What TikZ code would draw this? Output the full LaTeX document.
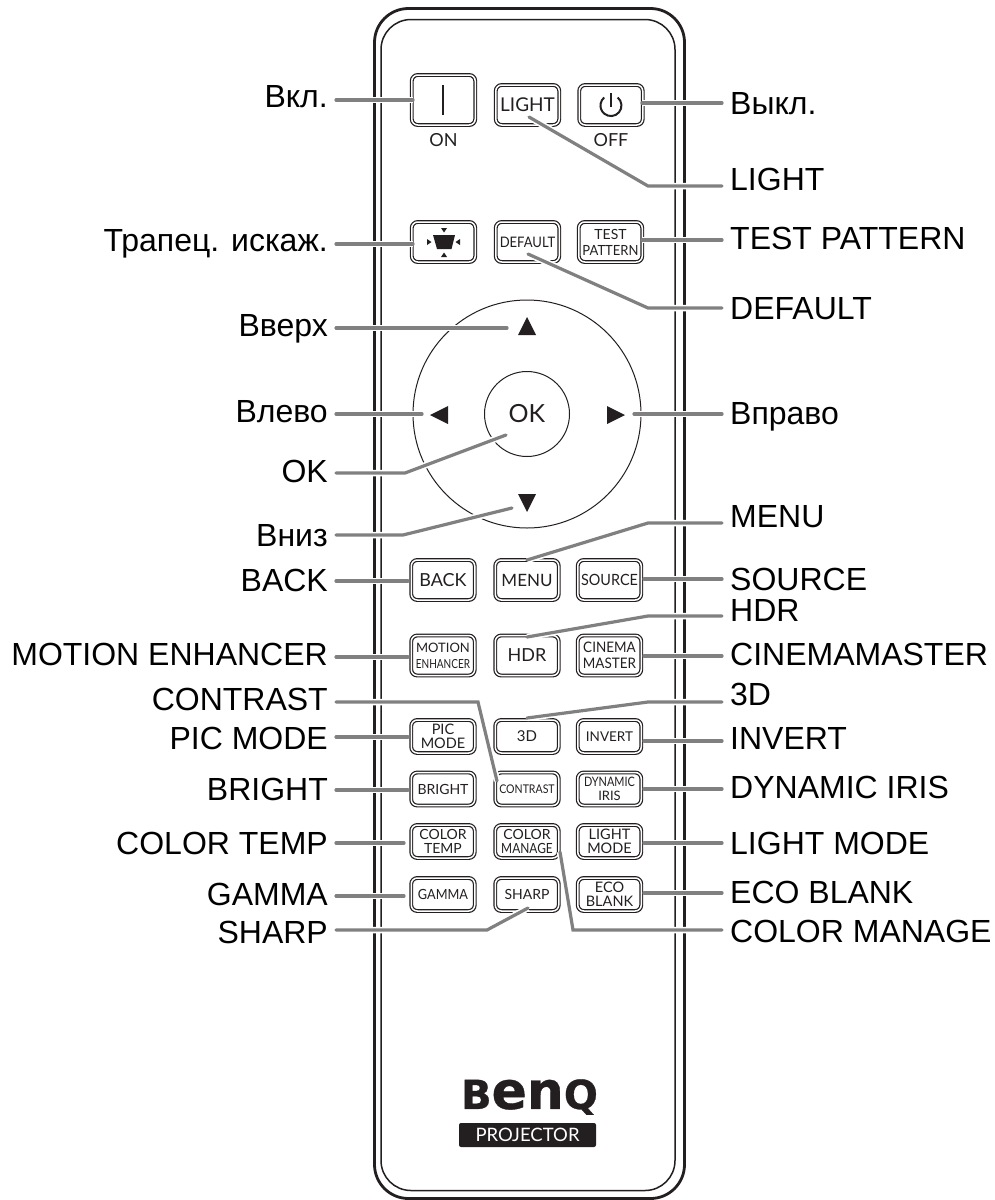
\documentclass[tikz,border=0pt]{standalone}
\usepackage{fontspec}
\setmainfont{Liberation Sans}
\newfontfamily\keyfont{Lato}
\newfontfamily\logofont{DejaVu Sans}[BoldFeatures={FakeBold=0.7}]
\usepackage{tikz}
\usetikzlibrary{calc}
\newcommand{\kf}[1]{\fontsize{#1}{16}\selectfont}
\newcommand{\nar}[2]{\scalebox{#1}[1]{#2}}
\definecolor{ink}{HTML}{231F20}
\definecolor{leadgray}{HTML}{808080}

\begin{document}
\begin{tikzpicture}[
  x=1pt,y=-1pt,
  shell/.style={draw=ink, rounded corners=34pt, inner sep=0pt, line width=2.8pt},
  btn/.style={draw=ink, double=white, double distance=1.5pt, line width=1.2pt,
              rounded corners=6pt, minimum width=63.5pt, inner sep=0pt, align=center,
              text=ink, font=\keyfont\kf{#1}},
  tallbtn/.style={btn=#1, minimum height=40pt},
  lowbtn/.style={btn=#1, minimum height=33pt, font=\keyfont\fontsize{#1}{14}\selectfont},
  pad/.style={circle, draw=ink, line width=1pt, inner sep=0pt},
  leftlab/.style={anchor=east, inner xsep=8pt, inner ysep=0pt, text=black,
                  font=\fontsize{32}{32}\selectfont, text height=23pt, text depth=0pt},
  rightlab/.style={leftlab, anchor=west},
  leader/.style={draw=leadgray, line width=3.2pt, line cap=round,
                 preaction={draw=white, line width=6.5pt}}
]
\useasboundingbox (0,0) rectangle (995,1200);

% remote body
\node[shell, minimum width=310pt, minimum height=1190pt] (bodyout) at (529.5,603.5) {};
\node[shell, line width=1.5pt, rounded corners=30pt, minimum width=294pt, minimum height=1171pt] (bodyin) at (528,605) {};

% first rows
\node[btn=12, minimum height=50pt] (btnOn) at (443.5,100) {};
\node[tallbtn=19] (btnLight) at (527.5,105) {LIGHT};
\node[tallbtn=12] (btnOff) at (611,105) {};
\node[text=ink, font=\keyfont\kf{18}, inner sep=0pt] (txtOn) at (443.5,140) {ON};
\node[text=ink, font=\keyfont\kf{18}, inner sep=0pt] (txtOff) at (611,140) {OFF};
\draw[ink, line width=1.8pt] (443,85) -- (443,115);
\draw[ink, line width=2pt] (617.7,97.5) arc (-50:230:10.5);
\draw[ink, line width=2pt] (611,93) -- (611,107);

\node[tallbtn=12] (btnKey) at (443.5,242) {};
\node[tallbtn=14.5] (btnDefault) at (527.5,242) {\nar{.9}{DEFAULT}};
\node[tallbtn=14] (btnTest) at (610.5,242) {TEST\\\nar{.93}{PATTERN}};
\fill[ink] (433,235) -- (455,235) -- (451.5,249) -- (437,249) -- cycle;
\fill[ink] (441,228) -- (447,228) -- (444,232.5) -- cycle;
\fill[ink] (441,257) -- (447,257) -- (444,252.5) -- cycle;
\fill[ink] (427,239) -- (427,245) -- (431.5,242) -- cycle;
\fill[ink] (460,239) -- (460,245) -- (455.5,242) -- cycle;

% direction pad
\node[pad, minimum size=228pt] (dpad) at (527,414) {};
\node[pad, minimum size=85pt, font=\keyfont\kf{25}, text=ink] (btnOk) at (527,414) {OK};
\fill[ink] (527,317) -- (536,335) -- (518,335) -- cycle;
\fill[ink] (527,512) -- (536,494) -- (518,494) -- cycle;
\fill[ink] (430,415) -- (448,406) -- (448,424) -- cycle;
\fill[ink] (625,415) -- (607,406) -- (607,424) -- cycle;

% lower rows
\node[tallbtn=18] (btnBack) at (443,580) {BACK};
\node[tallbtn=17] (btnMenu) at (527,580) {MENU};
\node[tallbtn=15.5] (btnSource) at (609.5,580) {\nar{.93}{SOURCE}};
\node[tallbtn=13] (btnMotion) at (443,655.5) {MOTION\\\kf{12.5}\nar{.8}{ENHANCER}};
\node[tallbtn=18] (btnHdr) at (527,655.5) {HDR};
\node[tallbtn=14.5] (btnCinema) at (609.5,655.5) {\nar{.93}{CINEMA}\\\nar{.93}{MASTER}};
\node[lowbtn=14.5] (btnPic) at (443,736.5) {PIC\\MODE};
\node[lowbtn=15] (btn3d) at (527,736.5) {3D};
\node[lowbtn=13.5] (btnInvert) at (609.5,736.5) {INVERT};
\node[lowbtn=14] (btnBright) at (443,789) {BRIGHT};
\node[lowbtn=12] (btnContrast) at (527,789) {\nar{.88}{CONTRAST}};
\node[lowbtn=13] (btnDynamic) at (609.5,789) {\nar{.84}{DYNAMIC}\\IRIS};
\node[lowbtn=14] (btnTemp) at (443,841.5) {COLOR\\TEMP};
\node[lowbtn=14] (btnManage) at (527,841.5) {COLOR\\\nar{.85}{MANAGE}};
\node[lowbtn=14.5] (btnMode) at (609.5,841.5) {LIGHT\\MODE};
\node[lowbtn=14] (btnGamma) at (443,894.5) {\nar{.91}{GAMMA}};
\node[lowbtn=14] (btnSharp) at (527,894.5) {SHARP};
\node[lowbtn=14.5] (btnEco) at (609.5,894.5) {ECO\\BLANK};

% logo
\node[inner sep=0pt, text=ink, font=\logofont\bfseries] (logo) at (529.5,1097)
  {\fontsize{40}{40}\selectfont B\fontsize{52}{52}\selectfont en\fontsize{40}{40}\selectfont Q};
\node[fill=ink, rounded corners=2pt, text=white, minimum width=137pt, minimum height=24pt,
      inner sep=0pt, font=\keyfont\kf{18.5}] (tagline) at (527.5,1135) {PROJECTOR};

% left labels
\node[leftlab] (labOn) at (336,96) {Вкл.};
\node[leftlab] (labKey) at (336,240) {Трапец. искаж.};
\node[leftlab] (labUp) at (336,325) {Вверх};
\node[leftlab] (labLeft) at (336,411) {Влево};
\node[leftlab] (labOk) at (336,471) {OK};
\node[leftlab] (labDown) at (336,535) {Вниз};
\node[leftlab] (labBack) at (336,580) {BACK};
\node[leftlab] (labMotion) at (336,654) {MOTION ENHANCER};
\node[leftlab] (labContrast) at (336,699) {CONTRAST};
\node[leftlab] (labPic) at (336,738) {PIC MODE};
\node[leftlab] (labBright) at (336,789) {BRIGHT};
\node[leftlab] (labTemp) at (336,843) {COLOR TEMP};
\node[leftlab] (labGamma) at (336,894) {GAMMA};
\node[leftlab] (labSharp) at (336,932) {SHARP};

% right labels
\node[rightlab] (labOff) at (722,103) {Выкл.};
\node[rightlab] (labLight) at (722,179) {LIGHT};
\node[rightlab] (labTest) at (722,238) {TEST PATTERN};
\node[rightlab] (labDefault) at (722,308) {DEFAULT};
\node[rightlab] (labRight) at (722,413) {Вправо};
\node[rightlab] (labMenu) at (722,516) {MENU};
\node[rightlab] (labSource) at (722,579) {SOURCE};
\node[rightlab] (labHdr) at (722,610) {HDR};
\node[rightlab] (labCinema) at (722,654) {CINEMAMASTER};
\node[rightlab] (lab3d) at (722,694) {3D};
\node[rightlab] (labInvert) at (722,738) {INVERT};
\node[rightlab] (labDynamic) at (722,787) {DYNAMIC IRIS};
\node[rightlab] (labMode) at (722,843) {LIGHT MODE};
\node[rightlab] (labEco) at (722,892) {ECO BLANK};
\node[rightlab] (labManage) at (722,931) {COLOR MANAGE};

% leaders, left side
\draw[leader] ($(btnOn)+(-30.5,0)$) coordinate (tipOn) -- (labOn.east |- tipOn);
\draw[leader] ($(btnKey)+(-30.5,2)$) coordinate (tipKey) -- (labKey.east |- tipKey);
\draw[leader] ($(dpad)+(-20,-86)$) coordinate (tipUp) -- (labUp.east |- tipUp);
\draw[leader] ($(dpad)+(-105,0)$) coordinate (tipLeft) -- (labLeft.east |- tipLeft);
\draw[leader] ($(btnOk)+(-21,21)$) -- (405,473) coordinate (bendOk) -- (labOk.east |- bendOk);
\draw[leader] ($(dpad)+(-15,94)$) -- (403,535) coordinate (bendDown) -- (labDown.east |- bendDown);
\draw[leader] ($(btnBack)+(-35,1)$) coordinate (tipBack) -- (labBack.east |- tipBack);
\draw[leader] ($(btnMotion)+(-35,1.5)$) coordinate (tipMotion) -- (labMotion.east |- tipMotion);
\draw[leader] ($(btnContrast)+(-30,-8)$) -- (478,702) coordinate (bendContrast) -- (labContrast.east |- bendContrast);
\draw[leader] ($(btnPic)+(-35,0.5)$) coordinate (tipPic) -- (labPic.east |- tipPic);
\draw[leader] ($(btnBright)+(-35,1)$) coordinate (tipBright) -- (labBright.east |- tipBright);
\draw[leader] ($(btnTemp)+(-39,1.5)$) coordinate (tipTemp) -- (labTemp.east |- tipTemp);
\draw[leader] ($(btnGamma)+(-39,1.5)$) coordinate (tipGamma) -- (labGamma.east |- tipGamma);
\draw[leader] ($(btnSharp)+(1,13.5)$) -- (487,930) coordinate (bendSharp) -- (labSharp.east |- bendSharp);

% leaders, right side
\draw[leader] ($(btnOff)+(31,-2)$) coordinate (tipOff) -- (labOff.west |- tipOff);
\draw[leader] ($(btnLight)+(1.5,12)$) -- (648,186) coordinate (bendLight) -- (labLight.west |- bendLight);
\draw[leader] ($(btnTest)+(31.5,-2)$) coordinate (tipTest) -- (labTest.west |- tipTest);
\draw[leader] ($(btnDefault)+(0.5,12)$) -- (648,308) coordinate (bendDefault) -- (labDefault.west |- bendDefault);
\draw[leader] ($(dpad)+(107,0)$) coordinate (tipRight) -- (labRight.west |- tipRight);
\draw[leader] ($(btnMenu)+(0,-20)$) -- (648,523) coordinate (bendMenu) -- (labMenu.west |- bendMenu);
\draw[leader] ($(btnSource)+(34.5,-1)$) coordinate (tipSource) -- (labSource.west |- tipSource);
\draw[leader] ($(btnHdr)+(0,-18.5)$) -- (648,616) coordinate (bendHdr) -- (labHdr.west |- bendHdr);
\draw[leader] ($(btnCinema)+(34.5,0.5)$) coordinate (tipCinema) -- (labCinema.west |- tipCinema);
\draw[leader] ($(btn3d)+(0,-18.5)$) -- (648,702) coordinate (bend3d) -- (lab3d.west |- bend3d);
\draw[leader] ($(btnInvert)+(34.5,4.5)$) coordinate (tipInvert) -- (labInvert.west |- tipInvert);
\draw[leader] ($(btnDynamic)+(34.5,0)$) coordinate (tipDynamic) -- (labDynamic.west |- tipDynamic);
\draw[leader] ($(btnMode)+(34.5,1.5)$) coordinate (tipMode) -- (labMode.west |- tipMode);
\draw[leader] ($(btnEco)+(34.5,-1.5)$) coordinate (tipEco) -- (labEco.west |- tipEco);
\draw[leader] ($(btnManage)+(33,10.5)$) -- (573,930) coordinate (bendManage) -- (labManage.west |- bendManage);

\end{tikzpicture}
\end{document}
